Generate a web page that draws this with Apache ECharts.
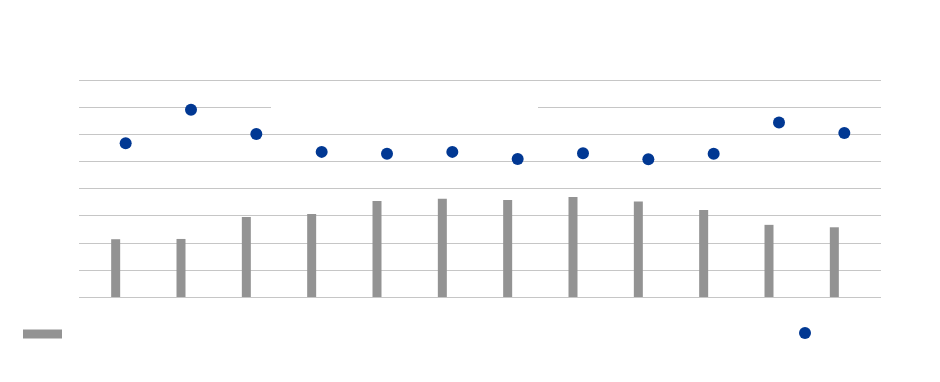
<!DOCTYPE html>
<html>
<head>
<meta charset="utf-8">
<script src="https://cdn.jsdelivr.net/npm/echarts@6/dist/echarts.min.js"></script>
<style>html,body{margin:0;padding:0;background:#fff;}#c{width:940px;height:382px;}</style>
</head>
<body>
<div id="c"></div>
<script>
var categories = ['1','2','3','4','5','6','7','8','9','10','11','12'];
var barValues = [2.13, 2.14, 2.95, 3.06, 3.54, 3.62, 3.58, 3.69, 3.52, 3.21, 2.66, 2.57];
var dotValues = [5.67, 6.90, 6.01, 5.35, 5.28, 5.35, 5.09, 5.30, 5.08, 5.28, 6.43, 6.05];
var yTicks = [0, 1, 2, 3, 4, 5, 6, 7, 8];
var barName = 'Series 1';
var dotName = 'Series 2';

var chart = echarts.init(document.getElementById('c'), null, {renderer: 'canvas'});
var white = '#ffffff';
chart.setOption({
  backgroundColor: '#ffffff',
  animation: false,
  legend: [
    {data: [barName], left: 23, top: 328, itemWidth: 39, itemHeight: 9, icon: 'rect', padding: 0,
     textStyle: {color: white, fontSize: 12, fontFamily: 'Liberation Sans'}},
    {data: [dotName], left: 799, top: 327, itemWidth: 12, itemHeight: 12, padding: 0,
     itemStyle: {opacity: 1},
     textStyle: {color: white, fontSize: 12, fontFamily: 'Liberation Sans'}}
  ],
  grid: [
    {left: 79, right: 59, top: 80, bottom: 85},
    {left: 83, width: 784, top: 80, bottom: 85}
  ],
  xAxis: [
    {gridIndex: 0, type: 'category', data: categories, show: false},
    {gridIndex: 1, type: 'category', data: categories,
     axisLine: {show: false}, axisTick: {show: false},
     axisLabel: {color: white, fontFamily: 'Liberation Sans'}}
  ],
  yAxis: [
    {gridIndex: 0, type: 'value', min: yTicks[0], max: yTicks[yTicks.length - 1], interval: 1,
     axisLine: {show: false}, axisTick: {show: false},
     axisLabel: {color: white, fontFamily: 'Liberation Sans'},
     splitLine: {show: true, lineStyle: {color: '#c6c6c6', width: 1}}},
    {gridIndex: 1, type: 'value', min: yTicks[0], max: yTicks[yTicks.length - 1], interval: 1, show: false,
     splitLine: {show: false}}
  ],
  series: [
    {name: barName, type: 'bar', xAxisIndex: 1, yAxisIndex: 1, data: barValues,
     barWidth: 9, itemStyle: {color: '#939393'}},
    {name: dotName, type: 'scatter', xAxisIndex: 1, yAxisIndex: 1, data: dotValues,
     symbol: 'circle', symbolSize: 12, symbolOffset: [10, 0], itemStyle: {color: '#013893', opacity: 1}}
  ],
  graphic: [
    {type: 'rect', shape: {x: 271, y: 104, width: 267, height: 6}, style: {fill: '#ffffff'}, z: 100}
  ]
});
</script>
</body>
</html>
